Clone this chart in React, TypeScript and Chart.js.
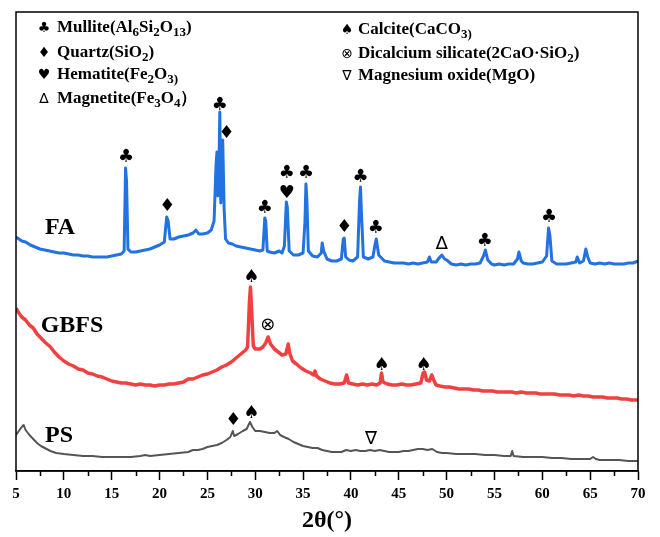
import React, { useEffect, useRef } from "react";
import { Chart, registerables } from "chart.js";

Chart.register(...registerables);

// 2θ (degrees) vs. intensity (a.u., stacked offsets)
const faPattern: [number, number][] = [
  [5.0, 234], [5.3, 232], [5.6, 230], [6.0, 229], [6.5, 226], [7.0, 224], [7.5, 222], [8.0, 221],
  [8.5, 220], [9.0, 219], [9.5, 218], [10.0, 218], [10.5, 217], [11.0, 216], [11.5, 216], [12.0, 215],
  [12.5, 215], [13.0, 214], [13.5, 214], [14.0, 214], [14.5, 214], [15.0, 215], [15.5, 216], [16.0, 217],
  [16.3, 220], [16.45, 303], [16.55, 290], [16.7, 222], [17.0, 219], [17.5, 219], [18.0, 220], [18.5, 221],
  [19.0, 222], [19.5, 224], [20.0, 226], [20.5, 229], [20.75, 254], [20.9, 250], [21.1, 232], [21.5, 232],
  [22.0, 234], [22.5, 235], [23.0, 236], [23.5, 238], [23.8, 241], [24.1, 237], [24.5, 237], [25.0, 238],
  [25.4, 241], [25.7, 250], [25.9, 305], [26.0, 319], [26.1, 275], [26.2, 300], [26.3, 359], [26.4, 268],
  [26.5, 300], [26.6, 331], [26.75, 262], [26.9, 232], [27.2, 228], [27.6, 227], [28.0, 225], [28.5, 224],
  [29.0, 223], [29.5, 222], [30.0, 221], [30.5, 220], [30.8, 221], [31.0, 253], [31.1, 250], [31.25, 220],
  [31.5, 219], [32.0, 218], [32.5, 220], [32.8, 218], [33.05, 225], [33.25, 269], [33.35, 264], [33.55, 220],
  [34.0, 216], [34.5, 216], [35.0, 218], [35.2, 250], [35.3, 287], [35.4, 270], [35.55, 220], [36.0, 215],
  [36.5, 214], [36.9, 218], [37.0, 228], [37.15, 220], [37.5, 212], [38.0, 210], [38.5, 210], [39.0, 212],
  [39.2, 232], [39.3, 233], [39.45, 214], [39.8, 211], [40.2, 210], [40.7, 214], [40.9, 270], [41.0, 284],
  [41.1, 258], [41.3, 214], [41.8, 212], [42.3, 214], [42.55, 228], [42.65, 232], [42.9, 216], [43.5, 210],
  [44.0, 209], [44.5, 208], [45.0, 208], [45.5, 208], [46.0, 207], [46.5, 208], [47.0, 207], [47.5, 208],
  [48.0, 209], [48.2, 214], [48.4, 209], [48.9, 209], [49.3, 214], [49.5, 216], [49.8, 212], [50.0, 211],
  [50.5, 207], [51.0, 206], [51.5, 207], [52.0, 206], [52.5, 207], [53.0, 207], [53.5, 208], [53.9, 216],
  [54.05, 221], [54.3, 211], [54.7, 207], [55.0, 206], [55.5, 207], [56.0, 206], [56.5, 207], [57.0, 207],
  [57.4, 212], [57.55, 219], [57.8, 210], [58.0, 208], [58.5, 207], [59.0, 207], [59.5, 208], [60.0, 209],
  [60.45, 215], [60.65, 243], [60.8, 235], [61.0, 210], [61.5, 207], [62.0, 207], [62.5, 207], [63.0, 208],
  [63.5, 209], [63.65, 214], [63.9, 208], [64.3, 210], [64.55, 222], [64.75, 214], [65.0, 208], [65.5, 207],
  [66.0, 208], [66.5, 207], [67.0, 208], [67.5, 207], [68.0, 207], [68.5, 207], [69.0, 208], [69.5, 208],
  [70.0, 210],
];

const gbfsPattern: [number, number][] = [
  [5.0, 163], [5.3, 158], [5.6, 154], [6.0, 151], [6.4, 146], [6.8, 143], [7.2, 137], [7.6, 133],
  [8.0, 129], [8.6, 124], [9.0, 119], [9.5, 114], [10.0, 110], [10.5, 107], [11.0, 105], [11.5, 102],
  [12.0, 101], [12.5, 98], [13.0, 97], [13.5, 95], [14.0, 94], [14.5, 92], [15.0, 90], [15.5, 89],
  [16.0, 88], [16.5, 88], [17.0, 87], [17.5, 86], [18.0, 87], [18.5, 86], [19.0, 86], [19.5, 85],
  [20.0, 86], [20.5, 86], [21.0, 87], [21.5, 87], [22.0, 88], [22.5, 89], [23.0, 92], [23.5, 92],
  [24.0, 94], [24.5, 96], [25.0, 97], [25.5, 99], [26.0, 101], [26.5, 104], [27.0, 106], [27.5, 109],
  [28.0, 113], [28.5, 117], [29.0, 121], [29.2, 124], [29.4, 170], [29.5, 184], [29.6, 165], [29.8, 125],
  [30.0, 122], [30.5, 122], [30.8, 124], [31.1, 128], [31.35, 134], [31.6, 127], [32.0, 122], [32.4, 119],
  [32.8, 116], [33.2, 117], [33.45, 127], [33.6, 118], [33.9, 110], [34.3, 107], [34.8, 103], [35.3, 100],
  [35.8, 98], [36.1, 96], [36.25, 100], [36.4, 95], [36.8, 92], [37.3, 90], [37.8, 88], [38.3, 87],
  [38.8, 87], [39.3, 88], [39.55, 96], [39.75, 88], [40.2, 87], [40.7, 86], [41.2, 87], [41.7, 86],
  [42.2, 87], [42.7, 86], [43.05, 88], [43.2, 98], [43.35, 89], [43.8, 87], [44.3, 86], [44.8, 86],
  [45.3, 87], [45.8, 86], [46.3, 86], [46.8, 87], [47.3, 88], [47.55, 98], [47.7, 99], [47.9, 91],
  [48.2, 90], [48.45, 96], [48.65, 91], [48.9, 86], [49.3, 85], [49.8, 84], [50.3, 84], [50.8, 83],
  [51.3, 82], [51.8, 82], [52.3, 82], [52.8, 81], [53.3, 81], [53.8, 80], [54.3, 80], [54.8, 80],
  [55.3, 79], [55.8, 79], [56.3, 79], [56.8, 79], [57.3, 78], [57.8, 79], [58.3, 78], [58.8, 78],
  [59.3, 78], [59.8, 77], [60.3, 77], [60.8, 77], [61.3, 77], [61.8, 76], [62.3, 76], [62.8, 76],
  [63.3, 75], [63.8, 76], [64.3, 75], [64.8, 75], [65.3, 74], [65.8, 74], [66.3, 74], [66.8, 73],
  [67.3, 73], [67.8, 73], [68.3, 72], [68.8, 72], [69.3, 71], [70.0, 71],
];

const psPattern: [number, number][] = [
  [5.0, 36], [5.3, 40], [5.6, 44], [5.8, 46], [6.0, 41], [6.4, 36], [6.8, 32], [7.2, 28],
  [7.6, 25], [8.0, 23], [8.6, 20], [9.2, 18], [10.0, 17], [11.0, 16], [12.0, 15], [13.0, 15],
  [14.0, 14], [15.0, 14], [16.0, 14], [17.0, 14], [18.0, 15], [18.5, 16], [19.0, 15], [20.0, 16],
  [21.0, 17], [22.0, 18], [23.0, 19], [23.5, 21], [24.0, 21], [24.5, 22], [25.0, 24], [25.5, 25],
  [26.0, 26], [26.5, 28], [27.0, 31], [27.4, 34], [27.65, 40], [27.8, 35], [28.2, 37], [28.7, 40],
  [29.1, 42], [29.45, 49], [29.7, 44], [30.0, 40], [30.5, 40], [31.0, 39], [31.5, 38], [32.0, 38],
  [32.3, 40], [32.6, 36], [33.0, 34], [33.5, 32], [34.0, 29], [34.5, 27], [35.0, 25], [35.5, 24],
  [36.0, 23], [36.5, 23], [37.0, 21], [37.5, 20], [38.0, 19], [38.5, 19], [39.0, 19], [39.5, 21],
  [40.0, 20], [40.5, 21], [41.0, 20], [41.5, 20], [42.0, 21], [42.5, 20], [43.0, 21], [43.5, 20],
  [44.0, 19], [44.5, 19], [45.0, 19], [45.5, 20], [46.0, 20], [46.5, 21], [47.0, 22], [47.5, 22],
  [48.0, 21], [48.5, 22], [49.0, 19], [49.5, 18], [50.0, 18], [51.0, 17], [52.0, 17], [53.0, 17],
  [54.0, 16], [55.0, 16], [56.0, 15], [56.7, 15], [56.85, 20], [57.0, 15], [58.0, 14], [59.0, 14],
  [60.0, 14], [61.0, 13], [62.0, 13], [63.0, 12], [64.0, 12], [65.0, 12], [65.3, 14], [65.6, 12],
  [66.0, 11], [67.0, 11], [68.0, 11], [69.0, 10], [70.0, 10],
];

// phase markers: [symbol, 2θ, intensity]
const faMarks: [string, number, number][] = [
  ["♣", 16.5, 314], ["♦", 20.8, 265], ["♣", 26.3, 366], ["♦", 27.0, 338], ["♣", 31.0, 263],
  ["♣", 33.3, 298], ["♥", 33.3, 278], ["♣", 35.3, 298], ["♦", 39.3, 244], ["♣", 41.0, 294],
  ["♣", 42.6, 243], ["∆", 49.5, 227], ["♣", 54.0, 230], ["♣", 60.7, 254],
];
const gbfsMarks: [string, number, number][] = [
  ["♠", 29.6, 194], ["⊗", 31.3, 146], ["♠", 43.2, 106], ["♠", 47.6, 106],
];
const psMarks: [string, number, number][] = [
  ["♦", 27.7, 51], ["♠", 29.6, 58], ["∇", 42.1, 32],
];

const sampleLabels: [string, number, number][] = [
  ["FA", 9.6, 243], ["GBFS", 10.85, 145], ["PS", 9.5, 35],
];

type Part = [string, number];
const legendLeft: [string, Part[]][] = [
  ["♣", [["Mullite(Al", 0], ["6", 1], ["Si", 0], ["2", 1], ["O", 0], ["13", 1], [")", 0]]],
  ["♦", [["Quartz(SiO", 0], ["2", 1], [")", 0]]],
  ["♥", [["Hematite(Fe", 0], ["2", 1], ["O", 0], ["3", 1], [")", 1]]],
  ["∆", [["Magnetite(Fe", 0], ["3", 1], ["O", 0], ["4", 1], ["）", 0]]],
];
const legendRight: [string, Part[]][] = [
  ["♠", [["Calcite", 0], ["(CaCO", 0], ["3", 1], [")", 1]]],
  ["⊗", [["Dicalcium silicate(2CaO·SiO", 0], ["2", 1], [")", 0]]],
  ["∇", [["Magnesium oxide(MgO)", 0]]],
];

const seriesColors = { FA: "#2272e0", GBFS: "#f04040", PS: "#555555" };

const SERIF = '"Liberation Serif", "Times New Roman", serif';
const SYM = '"DejaVu Sans", sans-serif';

function drawRich(ctx: CanvasRenderingContext2D, x0: number, yc: number, parts: Part[], size: number) {
  let cx = x0;
  for (const [t, sub] of parts) {
    const s = sub ? Math.round(size * 0.78) : size;
    ctx.font = `bold ${s}px ${SERIF}`;
    ctx.fillText(t, cx, yc + (sub ? size * 0.3 : 0));
    cx += ctx.measureText(t).width;
  }
}

const annotatePlugin = {
  id: "annotate",
  afterDatasetsDraw(chart: any) {
    const { ctx, chartArea: a, scales } = chart;
    const x = scales.x;
    const y = scales.y;
    ctx.save();
    ctx.strokeStyle = "#000";
    ctx.lineWidth = 1.5;
    ctx.strokeRect(a.left, a.top, a.right - a.left, a.bottom - a.top);
    for (let v = 7.5; v < 70; v += 5) {
      const px = Math.round(x.getPixelForValue(v)) + 0.5;
      ctx.beginPath();
      ctx.moveTo(px, a.bottom);
      ctx.lineTo(px, a.bottom + 5);
      ctx.stroke();
    }
    ctx.fillStyle = "#000";
    ctx.textAlign = "center";
    ctx.textBaseline = "middle";
    for (const [s, vx, vy] of [...faMarks, ...gbfsMarks, ...psMarks]) {
      ctx.font = `18px ${SYM}`;
      ctx.fillText(s, x.getPixelForValue(vx), y.getPixelForValue(vy));
    }
    ctx.font = `bold 24px ${SERIF}`;
    for (const [t, vx, vy] of sampleLabels) {
      ctx.fillText(t, x.getPixelForValue(vx), y.getPixelForValue(vy));
    }
    const rows = [16, 41, 63, 87];
    legendLeft.forEach(([sym, parts], i) => {
      const yc = a.top + rows[i];
      ctx.textAlign = "center";
      ctx.font = `14px ${SYM}`;
      ctx.fillText(sym, a.left + 28, yc);
      ctx.textAlign = "left";
      drawRich(ctx, a.left + 41, yc, parts, 17);
    });
    const rowsR = [18, 42, 64];
    legendRight.forEach(([sym, parts], i) => {
      const yc = a.top + rowsR[i];
      ctx.textAlign = "center";
      ctx.font = `14px ${SYM}`;
      ctx.fillText(sym, a.left + 331, yc);
      ctx.textAlign = "left";
      drawRich(ctx, a.left + 342, yc, parts, 17);
    });
    ctx.restore();
  },
};

export default function App() {
  const ref = useRef<HTMLCanvasElement>(null);
  useEffect(() => {
    if (!ref.current) return;
    const toPts = (arr: [number, number][]) => arr.map(([x, y]) => ({ x, y }));
    const chart = new Chart(ref.current, {
      type: "line",
      data: {
        datasets: [
          { label: "FA", data: toPts(faPattern), borderColor: seriesColors.FA, borderWidth: 3, pointRadius: 0, tension: 0, borderJoinStyle: "round" },
          { label: "GBFS", data: toPts(gbfsPattern), borderColor: seriesColors.GBFS, borderWidth: 3.5, pointRadius: 0, tension: 0, borderJoinStyle: "round" },
          { label: "PS", data: toPts(psPattern), borderColor: seriesColors.PS, borderWidth: 2, pointRadius: 0, tension: 0, borderJoinStyle: "round" },
        ],
      },
      options: {
        responsive: false,
        animation: false,
        devicePixelRatio: 1,
        layout: { padding: { left: 16, right: 22, top: 12, bottom: 0 } },
        plugins: { legend: { display: false }, tooltip: { enabled: false } },
        scales: {
          x: {
            type: "linear",
            min: 5,
            max: 70,
            ticks: { stepSize: 5, color: "#000", padding: 5, font: { family: SERIF, size: 15, weight: "bold" } },
            grid: { drawOnChartArea: false, tickLength: 9, tickColor: "#000", tickWidth: 1.5 },
            border: { color: "#000", width: 1.5 },
            title: { display: true, text: "2θ(°)", color: "#000", padding: { top: 0, bottom: 2 }, font: { family: SERIF, size: 24, weight: "bold" } },
            afterFit: (s: any) => { s.height = 66; },
          },
          y: { min: 0, max: 459, display: false },
        },
      },
      plugins: [annotatePlugin],
    } as any);
    return () => chart.destroy();
  }, []);
  return (
    <div style={{ position: "absolute", left: 0, top: 0, width: 660, height: 537, background: "#fff" }}>
      <canvas ref={ref} width={660} height={537} style={{ display: "block" }} />
    </div>
  );
}
